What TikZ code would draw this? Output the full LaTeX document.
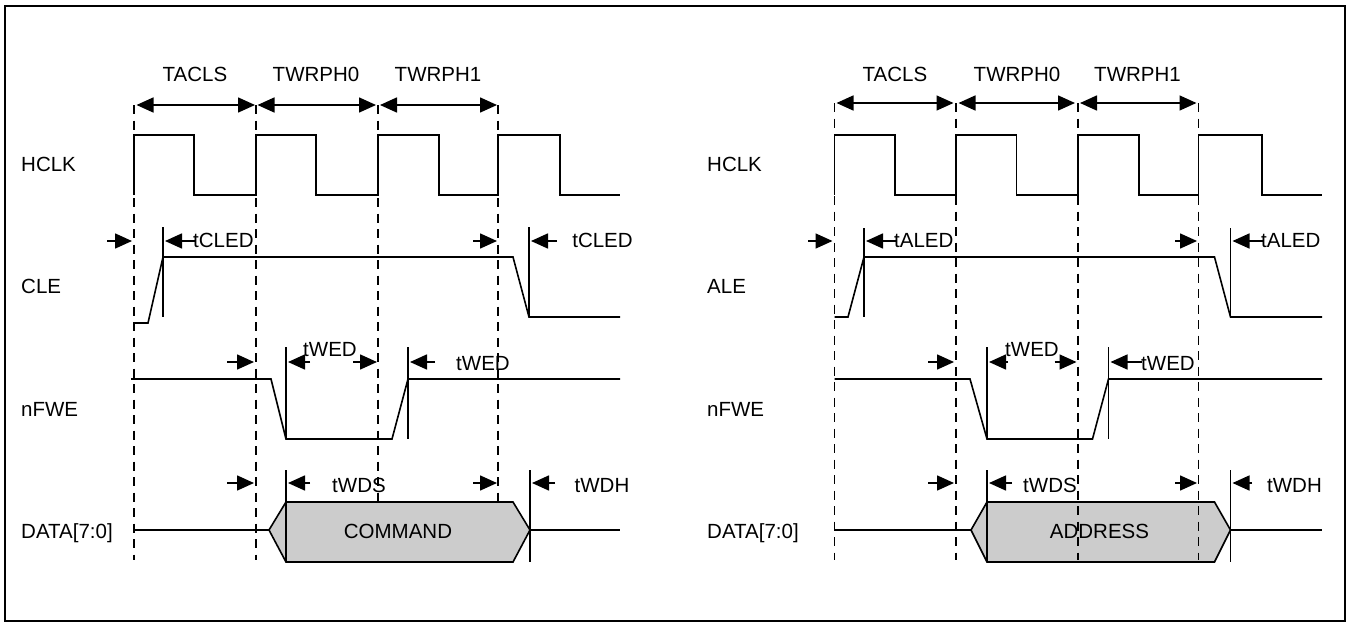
\documentclass[tikz,border=0pt]{standalone}
\usepackage{fontspec}
\setmainfont{Liberation Sans}
\usetikzlibrary{arrows.meta}
\definecolor{boxgray}{RGB}{204,204,204}
\begin{document}
\begin{tikzpicture}[x=1pt,y=-1pt,
  lbl/.style={font=\fontsize{20.5}{24}\selectfont, inner sep=0pt, anchor=base},
  lblw/.style={lbl, anchor=base west},
  sig/.style={line width=1.6pt, line join=miter},
  tickline/.style={line width=1.6pt},
  guide/.style={line width=1.5pt, dash pattern=on 9pt off 6.5pt},
  meas/.style={line width=1.6pt, -{Triangle[length=17pt,width=15pt]}},
  spanarrow/.style={line width=1.6pt, {Triangle[length=17pt,width=15pt]}-{Triangle[length=17pt,width=15pt]}},
  framebox/.style={line width=2.7pt},
  databox/.style={line width=1.6pt, fill=boxgray, line join=miter}]
\useasboundingbox (0,0) rectangle (1350,624);
\draw[framebox] (5,6) rectangle (1345,621);

% ================= LEFT DIAGRAM =================
% guide lines
\draw[guide] (134,105) -- (134,560);
\draw[guide] (256,105) -- (256,560);
\draw[guide] (378,105) -- (378,502);
\draw[guide] (498,105) -- (498,502);
% interval arrows and labels
\draw[spanarrow] (136.5,105) -- (255,105);
\draw[spanarrow] (257.5,105) -- (376,105);
\draw[spanarrow] (380,105) -- (497,105);
\node[lbl] (lTACLS) at (195,81) {TACLS};
\node[lbl] (lTW0) at (316,81) {TWRPH0};
\node[lbl] (lTW1) at (438,81) {TWRPH1};
% signal names
\node[lblw] (lHCLK) at (21,171) {HCLK};
\node[lblw] (lCLE) at (21,293) {CLE};
\node[lblw] (lFWE) at (21,416.5) {nFWE};
\node[lblw] (lDATA) at (21,538) {DATA[7:0]};
% HCLK
\draw[sig] (134,195) -- (134,135) -- (194,135) -- (194,195) -- (256,195) -- (256,135)
  -- (316,135) -- (316,195) -- (378,195) -- (378,135) -- (439,135) -- (439,195)
  -- (498,195) -- (498,135) -- (560,135) -- (560,195) -- (620,195);
% CLE
\draw[sig] (134,323) -- (148,323) -- (163,257) -- (513,257) -- (529,317) -- (620,317);
\draw[tickline] (163,227) -- (163,317);
\draw[tickline] (529,227) -- (529,317);
\draw[meas] (107,241) -- (132,241);
\draw[meas] (196,241) -- (165,241);
\node[lbl, anchor=base west] (ltCLED1) at (193,247.5) {tCLED};
\draw[meas] (473,241) -- (497,241);
\draw[meas] (557,241) -- (531,241);
\node[lbl] (ltCLED2) at (602.5,247.5) {tCLED};
% nFWE
\draw[sig] (131,379) -- (271,379) -- (286,439) -- (392,439) -- (408,379) -- (620,379);
\draw[tickline] (286,347) -- (286,439);
\draw[tickline] (408,347) -- (408,439);
\draw[meas] (227,362) -- (254,362);
\draw[meas] (310,362) -- (288,362);
\draw[meas] (353,362) -- (377,362);
\node[lbl] (ltWED1) at (330,356.5) {tWED};
\draw[meas] (435,362) -- (410,362);
\node[lbl] (ltWED2) at (483,370) {tWED};
% DATA
\draw[sig] (134,530) -- (269,530);
\draw[databox] (269,530) -- (286,502) -- (513,502) -- (530,530) -- (513,562) -- (286,562) -- cycle;
\draw[sig] (530,530) -- (620,530);
\draw[tickline] (286,470) -- (286,562);
\draw[tickline] (530,470) -- (530,562);
\node[lbl] (lCMD) at (398,538) {COMMAND};
\draw[meas] (227,483) -- (254,483);
\draw[meas] (310,483) -- (288,483);
\node[lbl] (ltWDS) at (359,492) {tWDS};
\draw[meas] (473,483) -- (497,483);
\draw[meas] (555,483) -- (532,483);
\node[lbl] (ltWDH) at (602,492) {tWDH};

% ================= RIGHT DIAGRAM =================
% interval arrows and labels
\draw[spanarrow] (836.5,103) -- (953.5,103);
\draw[spanarrow] (958.5,103) -- (1075,103);
\draw[spanarrow] (1080,103) -- (1196.5,103);
\node[lbl] (rTACLS) at (895,81) {TACLS};
\node[lbl] (rTW0) at (1017,81) {TWRPH0};
\node[lbl] (rTW1) at (1137.5,81) {TWRPH1};
% signal names
\node[lblw] (rHCLK) at (707,171) {HCLK};
\node[lblw] (rALE) at (707,293) {ALE};
\node[lblw] (rFWE) at (707,416.5) {nFWE};
\node[lblw] (rDATA) at (707,538) {DATA[7:0]};
% HCLK
\draw[sig] (834.5,195) -- (834.5,135) -- (895,135) -- (895,195) -- (956,195) -- (956,135)
  -- (1016.5,135) -- (1016.5,195) -- (1078,195) -- (1078,135) -- (1139,135) -- (1139,195)
  -- (1198.5,195) -- (1198.5,135) -- (1262,135) -- (1262,195) -- (1322,195);
% ALE
\draw[sig] (834.5,317) -- (848,317) -- (864,257) -- (1214.5,257) -- (1230.5,317) -- (1322,317);
\draw[tickline] (864,228) -- (864,317);
\draw[tickline] (1230.5,228) -- (1230.5,317);
\draw[meas] (808,241) -- (832.5,241);
\draw[meas] (897,241) -- (866,241);
\node[lbl, anchor=base west] (rtALED1) at (894,247.5) {tALED};
\draw[meas] (1175,241) -- (1197,241);
\draw[meas] (1263,241) -- (1232.5,241);
\node[lbl, anchor=base west] (rtALED2) at (1261,247.5) {tALED};
% nFWE
\draw[sig] (834.5,379) -- (970,379) -- (987,439) -- (1092.5,439) -- (1108.5,379) -- (1322,379);
\draw[tickline] (987,347) -- (987,439);
\draw[tickline] (1108.5,347) -- (1108.5,439);
\draw[meas] (928,362) -- (954,362);
\draw[meas] (1008,362) -- (989,362);
\draw[meas] (1054.5,362) -- (1076.5,362);
\node[lbl] (rtWED1) at (1032,356.5) {tWED};
\draw[meas] (1142,362) -- (1110.5,362);
\node[lbl, anchor=base west] (rtWED2) at (1141,370) {tWED};
% DATA
\draw[sig] (834.5,530) -- (971,530);
\draw[databox] (971,530) -- (987,502) -- (1214.5,502) -- (1230.5,530) -- (1214.5,562) -- (987,562) -- cycle;
\draw[sig] (1230.5,530) -- (1322,530);
\draw[tickline] (987,470) -- (987,562);
\draw[tickline] (1230.5,470) -- (1230.5,562);
\node[lbl] (rADDR) at (1099.5,538) {ADDRESS};
\draw[meas] (928,483) -- (954,483);
\draw[meas] (1012,483) -- (989,483);
\node[lbl] (rtWDS) at (1050,492) {tWDS};
\draw[meas] (1175,483) -- (1197,483);
\draw[meas] (1252,483) -- (1232.5,483);
\node[lbl] (rtWDH) at (1294.5,492) {tWDH};
% guide lines (drawn over the data box)
\draw[guide] (834.5,103) -- (834.5,560);
\draw[guide] (956,103) -- (956,560);
\draw[guide] (1078,103) -- (1078,560);
\draw[guide] (1198.5,103) -- (1198.5,560);
\end{tikzpicture}
\end{document}
